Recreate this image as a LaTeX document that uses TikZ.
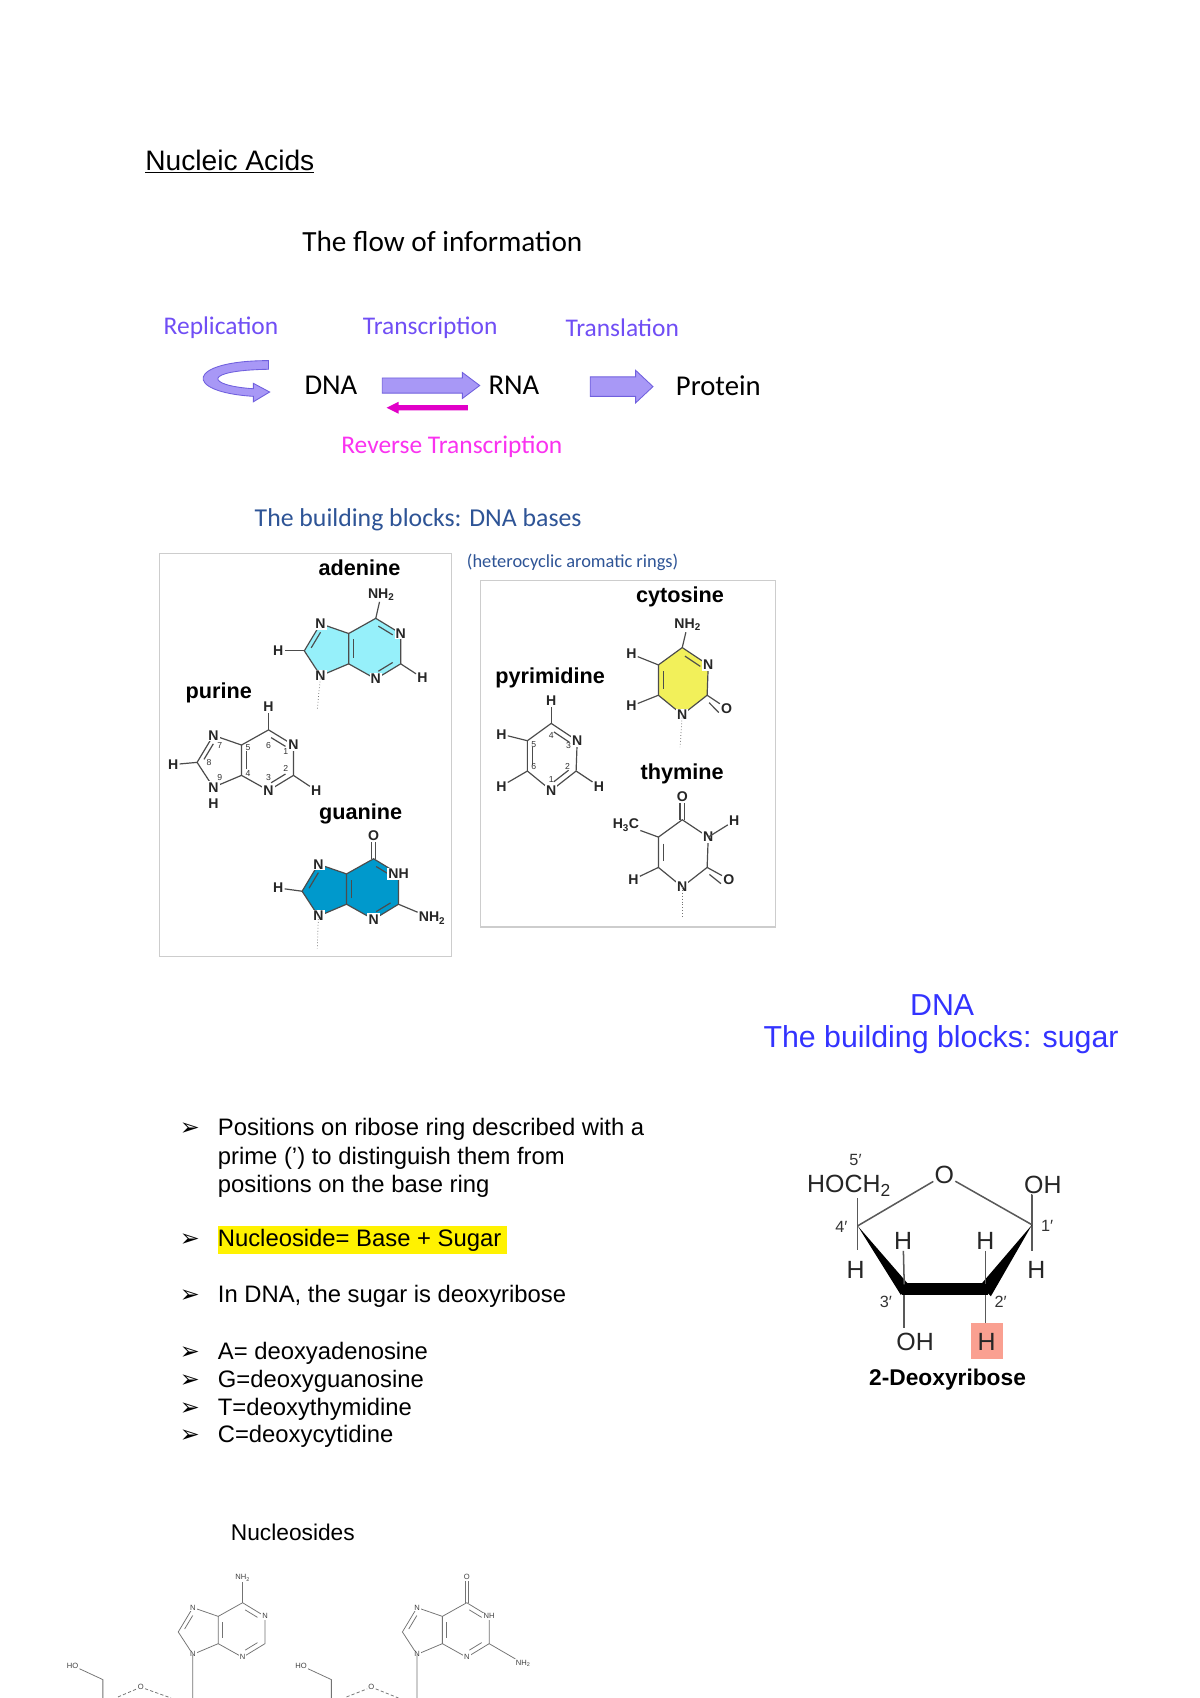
\documentclass[tikz,border=0pt]{standalone}
\usepackage{fontspec}
\setmainfont{Liberation Sans}
\newfontfamily\calib{Carlito}
\newfontfamily\dvs{DejaVu Sans}
\usetikzlibrary{calc}
\definecolor{flowtxt}{RGB}{112,78,245}
\definecolor{flowfill}{RGB}{168,152,246}
\definecolor{flowline}{RGB}{112,96,222}
\definecolor{magtxt}{RGB}{250,50,240}
\definecolor{magarr}{RGB}{225,0,200}
\definecolor{bbblue}{RGB}{46,84,150}
\definecolor{dnablue}{RGB}{51,51,255}
\definecolor{adfill}{RGB}{150,240,250}
\definecolor{gufill}{RGB}{0,153,204}
\definecolor{cyfill}{RGB}{242,240,90}
\definecolor{salmon}{RGB}{250,160,145}
\definecolor{boxgray}{RGB}{205,205,205}
\tikzset{
 bond/.style={draw=black!70,line width=1.1pt},
 atom/.style={font=\fontsize{13}{13}\selectfont\bfseries,inner sep=1pt,text=black!85},
 hatom/.style={atom,fill=white},
 num/.style={font=\fontsize{8}{8}\selectfont,inner sep=0.5pt,text=black!80},
 molname/.style={font=\fontsize{20}{20}\selectfont\bfseries,inner sep=0pt},
 body/.style={font=\fontsize{22}{22}\selectfont,anchor=base west,inner sep=0pt},
 bul/.style={font=\dvs\fontsize{22}{22}\selectfont,anchor=base west,inner sep=0pt},
 flow/.style={font=\calib\fontsize{23.5}{23.5}\selectfont,text=flowtxt,inner sep=0pt},
 mol/.style={font=\calib\fontsize{26.5}{26.5}\selectfont,inner sep=0pt},
 sug/.style={font=\fontsize{23}{23}\selectfont,inner sep=1pt,text=black!85},
 sugnum/.style={font=\fontsize{15}{15}\selectfont,inner sep=0.5pt,text=black!80},
 thin/.style={draw=black!55,line width=0.7pt},
 sbond/.style={draw=black!65,line width=1.4pt},
 blockarrow/.style={fill=flowfill,draw=flowline,line width=0.8pt},
 tiny/.style={font=\fontsize{7}{7}\selectfont,inner sep=1pt,fill=white,text=black!75},
}
\newcommand\fusedring[5]{%
\begin{scope}[shift={(#1,#2)},scale=#4]
\coordinate (C6) at (0,0); \coordinate (N1) at (23,14); \coordinate (C2) at (23,42);
\coordinate (N3) at (0,56); \coordinate (C4) at (-25,42); \coordinate (C5) at (-25,14);
\coordinate (N7) at (-51,5); \coordinate (C8) at (-66,30); \coordinate (N9) at (-51,53);
\coordinate (hc) at (-1,28); \coordinate (pc) at (-44,29);
\fill[#3] (C6)--(N1)--(C2)--(N3)--(C4)--(N9)--(C8)--(N7)--(C5)--cycle;
\draw[#5] (C6)--(N1)--(C2)--(N3)--(C4)--(C5)--cycle;
\draw[#5] (C5)--(N7)--(C8)--(N9)--(C4);
\draw[#5,shorten <=3pt,shorten >=3pt] ($(C6)!0.2!(hc)$)--($(N1)!0.2!(hc)$);
\draw[#5,shorten <=3pt,shorten >=3pt] ($(C2)!0.2!(hc)$)--($(N3)!0.2!(hc)$);
\draw[#5,shorten <=3pt,shorten >=3pt] ($(C4)!0.18!(hc)$)--($(C5)!0.18!(hc)$);
\draw[#5,shorten <=3pt,shorten >=3pt] ($(N7)!0.22!(pc)$)--($(C8)!0.22!(pc)$);
\end{scope}}
\newcommand\pyring[3]{%
\begin{scope}[shift={(#1,#2)}]
\coordinate (Q4) at (0,0); \coordinate (Q3) at (24,16); \coordinate (Q2) at (23,44);
\coordinate (Q1) at (0,62); \coordinate (Q6) at (-22,44); \coordinate (Q5) at (-22,16);
\coordinate (qc) at (0,31);
\fill[#3] (Q4)--(Q3)--(Q2)--(Q1)--(Q6)--(Q5)--cycle;
\draw[bond] (Q4)--(Q3)--(Q2)--(Q1)--(Q6)--(Q5)--cycle;
\end{scope}}
\begin{document}
\begin{tikzpicture}[x=1pt,y=-1pt]
\useasboundingbox[fill=white] (0,0) rectangle (1108,1568);
\node[font=\fontsize{26}{26}\selectfont,anchor=base west,inner sep=0pt] (title) at (134,157) {\underline{Nucleic Acids}};
\node[font=\calib\fontsize{27}{27}\selectfont,anchor=west,inner sep=0pt] (flowtitle) at (279,223) {The flow of information};
\node[flow,anchor=west] (rep) at (151,303) {Replication};
\node[flow,anchor=west] (tsc) at (335,303) {Transcription};
\node[flow,anchor=west] (tsl) at (522,303) {Translation};
\node[mol,anchor=west] (dna) at (281,356) {DNA};
\node[mol,anchor=west] (rna) at (451,356) {RNA};
\node[mol,anchor=west] (prot) at (624,356) {Protein};
\node[flow,anchor=west,text=magtxt] (rev) at (315,413) {Reverse Transcription};
\draw[blockarrow] (248,333) .. controls (172,333) and (168,362) .. (234,366) -- (234,371) -- (249,362)
  -- (234,354) -- (234,359) .. controls (190,356) and (186,342) .. (248,341) -- cycle;
\draw[blockarrow] (353,349) -- (353,363) -- (427,363) -- (427,368) -- (443,356) -- (427,344) -- (427,349) -- cycle;
\draw[blockarrow] (545,348) -- (545,366) -- (587,366) -- (587,372) -- (603,357) -- (587,342) -- (587,348) -- cycle;
\fill[magarr] (432,374) -- (432,379) -- (368,379) -- (368,382) -- (357,376.5) -- (368,371) -- (368,374) -- cycle;
\node[font=\calib\fontsize{23.8}{23.8}\selectfont,text=bbblue,anchor=west,inner sep=0pt] (bbt) at (235,480) {The building blocks: DNA bases};
\node[font=\calib\fontsize{17}{17}\selectfont,text=bbblue,anchor=west,inner sep=0pt] (het) at (431,519) {(heterocyclic aromatic rings)};
\draw[boxgray,line width=1.2pt] (147,511) rectangle (417,883);
\draw[boxgray,line width=1.2pt] (444,536) rectangle (716,856);
% adenine
\node[molname] (adn) at (332,524) {adenine};
\fusedring{347}{571}{adfill}{1}{bond}
\node[atom] (anh2) at (352,549) {NH\textsubscript{2}};
\draw[bond] (C6) -- (anh2);
\node[hatom] at (N1) {N}; \node[hatom] at (N3) {N}; \node[hatom] at (N7) {N}; \node[hatom] at (N9) {N};
\node[atom] (ah2) at (390,626) {H}; \draw[bond] (C2) -- (ah2);
\node[atom] (ah8) at (257,601) {H}; \draw[bond] (C8) -- (ah8);
\coordinate (adash) at (293,655); \draw[thin,dotted] (N9) -- (adash);
% purine
\node[molname] (pun) at (202,640) {purine};
\fusedring{248}{674}{white}{1}{bond}
\node[atom] (ph6) at (248,653) {H}; \draw[bond] (C6) -- (ph6);
\node[hatom] at (N1) {N}; \node[hatom] at (N3) {N}; \node[hatom] at (N7) {N}; \node[hatom] at (N9) {N};
\node[atom] (ph9) at (197,742) {H};
\node[atom] (ph2) at (292,730) {H}; \draw[bond] (C2) -- (ph2);
\node[atom] (ph8) at (160,706) {H}; \draw[bond] (C8) -- (ph8);
\node[num] at ($(C6)+(0,14)$) {6}; \node[num] at ($(N1)+(-7,6)$) {1}; \node[num] at ($(C2)+(-7,-6)$) {2};
\node[num] at ($(N3)+(0,-12)$) {3}; \node[num] at ($(C4)+(6,-2)$) {4}; \node[num] at ($(C5)+(6,2)$) {5};
\node[num] at ($(N7)+(6,9)$) {7}; \node[num] at ($(C8)+(11,0)$) {8}; \node[num] at ($(N9)+(6,-9)$) {9};
% guanine
\node[molname] (gun) at (333,752) {guanine};
\fusedring{345}{793}{gufill}{1}{bond}
\node[atom] (go) at (345,772) {O};
\draw[bond] ($(C6)+(-2,0)$) -- ($(go.south)+(-2,0)$); \draw[bond] ($(C6)+(2,0)$) -- ($(go.south)+(2,0)$);
\node[hatom] at (N1) {NH}; \node[hatom] at (N3) {N}; \node[hatom] at (N7) {N}; \node[hatom] at (N9) {N};
\node[atom] (gnh2) at (399,848) {NH\textsubscript{2}}; \draw[bond] (C2) -- (gnh2);
\node[atom] (gh8) at (257,820) {H}; \draw[bond] (C8) -- (gh8);
\coordinate (gdash) at (293,876); \draw[thin,dotted] (N9) -- (gdash);
% pyrimidine
\node[molname] (pyn) at (508,626) {pyrimidine};
\pyring{509}{668}{white}
\draw[bond,shorten <=3pt,shorten >=3pt] ($(Q4)!0.2!(qc)$) -- ($(Q3)!0.2!(qc)$);
\draw[bond,shorten <=3pt,shorten >=3pt] ($(Q2)!0.2!(qc)$) -- ($(Q1)!0.2!(qc)$);
\draw[bond,shorten <=3pt,shorten >=3pt] ($(Q5)!0.2!(qc)$) -- ($(Q6)!0.2!(qc)$);
\node[hatom] at (Q3) {N}; \node[hatom] at (Q1) {N};
\node[atom] (yh4) at (509,647) {H}; \draw[bond] (Q4) -- (yh4);
\node[atom] (yh2) at (553,726) {H}; \draw[bond] (Q2) -- (yh2);
\node[atom] (yh5) at (463,678) {H}; \draw[bond] (Q5) -- (yh5);
\node[atom] (yh6) at (463,726) {H}; \draw[bond] (Q6) -- (yh6);
\node[num] at ($(Q4)+(0,11)$) {4}; \node[num] at ($(Q3)+(-8,4)$) {3}; \node[num] at ($(Q2)+(-8,-4)$) {2};
\node[num] at ($(Q1)+(0,-10)$) {1}; \node[num] at ($(Q6)+(6,-4)$) {6}; \node[num] at ($(Q5)+(6,4)$) {5};
% cytosine
\node[molname] (cyn) at (628,551) {cytosine};
\pyring{630}{598}{cyfill}
\draw[bond,shorten <=3pt,shorten >=3pt] ($(Q4)!0.2!(qc)$) -- ($(Q3)!0.2!(qc)$);
\draw[bond,shorten <=3pt,shorten >=3pt] ($(Q5)!0.2!(qc)$) -- ($(Q6)!0.2!(qc)$);
\node[hatom] at (Q3) {N}; \node[hatom] at (Q1) {N};
\node[atom] (cnh2) at (635,577) {NH\textsubscript{2}}; \draw[bond] (Q4) -- (cnh2);
\node[atom] (co) at (671,654) {O}; \draw[bond] (Q2) -- (co); \draw[bond,shorten <=4pt] ($(Q2)+(-1,4)$) -- ($(co.west)+(-1,4)$);
\node[atom] (ch5) at (583,604) {H}; \draw[bond] (Q5) -- (ch5);
\node[atom] (ch6) at (583,652) {H}; \draw[bond] (Q6) -- (ch6);
\coordinate (cdash) at (628,690); \draw[thin,dotted] (Q1) -- (cdash);
% thymine
\node[molname] (thn) at (630,715) {thymine};
\pyring{630}{757}{white}
\draw[bond,shorten <=3pt,shorten >=3pt] ($(Q5)!0.2!(qc)$) -- ($(Q6)!0.2!(qc)$);
\node[hatom] at (Q3) {N}; \node[hatom] at (Q1) {N};
\node[atom] (to4) at (630,736) {O};
\draw[bond] ($(Q4)+(-2,0)$) -- ($(to4.south)+(-2,0)$); \draw[bond] ($(Q4)+(2,0)$) -- ($(to4.south)+(2,0)$);
\node[atom] (to2) at (673,812) {O}; \draw[bond] (Q2) -- (to2); \draw[bond,shorten <=4pt] ($(Q2)+(-1,4)$) -- ($(to2.west)+(-1,4)$);
\node[atom] (th3) at (678,758) {H}; \draw[bond] (Q3) -- (th3);
\node[atom] (tme) at (578,762) {H\textsubscript{3}C}; \draw[bond] (Q5) -- (tme);
\node[atom] (th6) at (585,812) {H}; \draw[bond] (Q6) -- (th6);
\coordinate (tdash) at (630,848); \draw[thin,dotted] (Q1) -- (tdash);
% DNA sugar title
\node[font=\fontsize{28}{28}\selectfont,text=dnablue,inner sep=0pt] (dnat) at (870,928) {DNA};
\node[font=\fontsize{28}{28}\selectfont,text=dnablue,inner sep=0pt] (sugt) at (869,960) {The building blocks: sugar};
% bullets
\foreach \yy in {1049,1151,1203,1255,1281,1307,1332}{
  \node[bul] at (166,\yy) {➢};
}
\node[body] (b1) at (201,1049) {Positions on ribose ring described with a};
\node[body] (b1b) at (201,1075) {prime (’) to distinguish them from};
\node[body] (b1c) at (201,1101) {positions on the base ring};
\fill[yellow] (201,1132) rectangle (468,1158);
\node[body] (b2) at (201,1151) {Nucleoside= Base + Sugar};
\node[body] (b3) at (201,1203) {In DNA, the sugar is deoxyribose};
\node[body] (b4) at (201,1255) {A= deoxyadenosine};
\node[body] (b5) at (201,1281) {G=deoxyguanosine};
\node[body] (b6) at (201,1307) {T=deoxythymidine};
\node[body] (b7) at (201,1332) {C=deoxycytidine};
% deoxyribose
\node[sug] (hoch) at (784,1095) {HOCH\textsubscript{2}};
\node[sugnum] (n5) at (790,1071) {5′};
\node[sug] (so) at (872,1085) {O};
\node[sug] (soh1) at (963,1094) {OH};
\coordinate (c4) at (792,1132); \coordinate (c1) at (953,1131);
\draw[sbond] (c4) -- (so); \draw[sbond] (so) -- (c1);
\draw[sbond] (hoch.south -| c4) -- (c4) -- ++(0,22) coordinate (c4h);
\node[sug] (sh4) at (790,1173) {H};
\draw[sbond] (soh1) -- (c1 |- soh1.south) -- (c1) -- (953,1155);
\node[sug] (sh1) at (957,1173) {H};
\node[sugnum] (n4) at (777,1133) {4′};
\node[sugnum] (n1) at (967,1132) {1′};
\fill[black] (c4) -- (838,1185) -- (832,1196) -- cycle;
\fill[black] (833,1185) -- (912,1185) -- (912,1196) -- (833,1196) -- cycle;
\fill[black] (c1) -- (915,1197) -- (905,1187) -- cycle;
\node[sug] (sh3) at (834,1146) {H}; \draw[sbond] (sh3) -- (835,1186);
\node[sug] (sh2) at (910,1146) {H}; \draw[sbond] (sh2) -- (910,1186);
\node[sugnum] (n3) at (818,1202) {3′};
\node[sugnum] (n2) at (924,1202) {2′};
\node[sug] (soh3) at (845,1239) {OH}; \draw[sbond] (835,1196) -- (835,1226);
\fill[salmon] (897,1222) rectangle (926,1255);
\node[sug] (shh) at (911,1239) {H}; \draw[sbond] (910,1196) -- (910,1222);
\node[font=\fontsize{21}{21}\selectfont\bfseries,inner sep=0pt] (deo) at (875,1274) {2-Deoxyribose};
% nucleosides
\node[font=\fontsize{21}{21}\selectfont,anchor=west,inner sep=0pt] (nucl) at (213,1415) {Nucleosides};
\fusedring{224}{1480}{white}{0.9}{thin}
\node[tiny] at (N1) {N}; \node[tiny] at (N3) {N}; \node[tiny] at (N7) {N}; \node[tiny] at (N9) {N};
\node[tiny] (lnh2) at (224,1457) {NH\textsubscript{2}}; \draw[thin] (C6) -- (lnh2);
\coordinate (lb) at (178,1568); \draw[thin] (N9) -- (lb);
\node[tiny] (lho) at (67,1538) {HO}; \coordinate (l1) at (95,1551); \coordinate (l2) at (95,1568);
\draw[thin] (lho) -- (l1) -- (l2);
\node[tiny] (lo) at (130,1558) {O};
\draw[thin,densely dashed] (109,1567) -- (lo) -- (158,1568);
\fusedring{431}{1480}{white}{0.9}{thin}
\node[tiny] at (N1) {NH}; \node[tiny] at (N3) {N}; \node[tiny] at (N7) {N}; \node[tiny] at (N9) {N};
\node[tiny] (go2) at (431,1456) {O};
\draw[thin] ($(C6)+(-1.5,0)$) -- ($(go2.south)+(-1.5,0)$); \draw[thin] ($(C6)+(1.5,0)$) -- ($(go2.south)+(1.5,0)$);
\node[tiny] (gnh) at (483,1536) {NH\textsubscript{2}}; \draw[thin] (C2) -- (gnh);
\coordinate (gb) at (385,1568); \draw[thin] (N9) -- (gb);
\node[tiny] (gho) at (278,1538) {HO}; \coordinate (g1) at (306,1551); \coordinate (g2) at (306,1568);
\draw[thin] (gho) -- (g1) -- (g2);
\node[tiny] (go3) at (343,1558) {O};
\draw[thin,densely dashed] (320,1567) -- (go3) -- (368,1568);
\end{tikzpicture}
\end{document}
